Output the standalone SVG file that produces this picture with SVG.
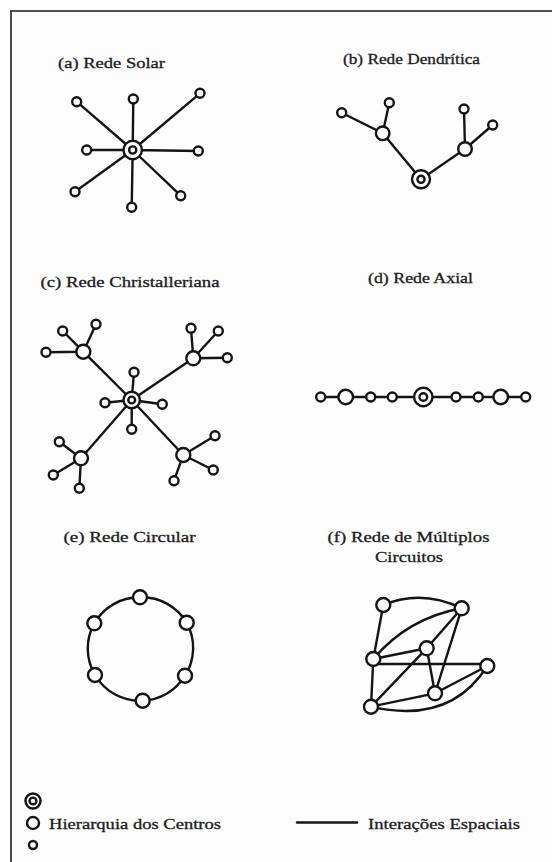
<svg xmlns="http://www.w3.org/2000/svg" width="552" height="862" viewBox="0 0 552 862">
<style>
.e{stroke:#141414;stroke-width:2.4;fill:none;stroke-linecap:round}
.n{fill:#fff;stroke:#141414;stroke-width:2.4}
.t{font-family:"Liberation Serif","Times New Roman",serif;font-size:14.5px;fill:#1c1c1c;stroke:#1c1c1c;stroke-width:0.3}
</style>
<rect x="0" y="0" width="552" height="862" fill="#fff"/>
<rect x="11" y="11" width="600" height="900" fill="#fdfdfd" stroke="#3a3a3a" stroke-width="1.8"/>

<g id="titles">
<text class="t" x="58" y="68" textLength="107" lengthAdjust="spacingAndGlyphs">(a) Rede Solar</text>
<text class="t" x="343" y="64" textLength="137" lengthAdjust="spacingAndGlyphs">(b) Rede Dendrítica</text>
<text class="t" x="40.5" y="287" textLength="179" lengthAdjust="spacingAndGlyphs">(c) Rede Christalleriana</text>
<text class="t" x="368" y="283" textLength="105" lengthAdjust="spacingAndGlyphs">(d) Rede Axial</text>
<text class="t" x="63.5" y="542" textLength="132" lengthAdjust="spacingAndGlyphs">(e) Rede Circular</text>
<text class="t" x="327.5" y="542" textLength="162" lengthAdjust="spacingAndGlyphs">(f) Rede de Múltiplos</text>
<text class="t" x="375" y="562" textLength="68" lengthAdjust="spacingAndGlyphs">Circuitos</text>
</g>

<g id="connectors">
<path class="e" d="M132.7 150L76.7 101.7M132.7 150L133.3 99M132.7 150L200 93.3M132.7 150L86.7 150M132.7 150L198.3 151M132.7 150L75 191.7M132.7 150L131.7 207.3M132.7 150L180.7 195.7"/>
<path class="e" d="M421 179.3L382.7 133.3L341.7 112.7M382.7 133.3L389.3 102.7M421 179.3L465 149L464 109M465 149L492.7 125"/>
<path class="e" d="M131.7 400L83.3 351.7M131.7 400L193.3 358.3M131.7 400L81 458.3M131.7 400L183.3 455M131.7 400L134 372.3M131.7 400L105 402.7M131.7 400L162.3 404.3M131.7 400L131.7 429.3"/>
<path class="e" d="M83.3 351.7L62.7 331M83.3 351.7L96 324.3M83.3 351.7L46 352.3M193.3 358.3L191 328.3M193.3 358.3L218.3 331M193.3 358.3L227.3 357.7M81 458.3L59.3 441.7M81 458.3L53.3 475M81 458.3L79.3 488.3M183.3 455L215 435.7M183.3 455L213.3 470M183.3 455L174 480.7"/>
<path class="e" d="M320.7 397L525.7 397"/>
<path class="e" d="M140 597.3A52 52 0 0 1 186.7 622.7A52 52 0 0 1 185 675.7A52 52 0 0 1 142.7 700.7A52 52 0 0 1 95 675A52 52 0 0 1 94.3 623.3A52 52 0 0 1 140 597.3"/>
<path class="e" d="M383.3 605Q422 589 461.7 608.3M373.3 659Q408 618 461.7 608.3M371 706.7Q450 725 487.3 666"/>
<path class="e" d="M383.3 605L373.3 659M461.7 608.3L426.7 648.3M461.7 608.3L435 693.3M373.3 659L426.7 648.3M375 664L487.3 664M373.3 659L371 706.7M426.7 648.3L435 693.3M426.7 648.3L371 706.7M371 706.7L435 693.3M435 693.3L487.3 666"/>
<path class="e" d="M297 822.5L357 822.5" stroke-width="2.7"/>
</g>

<g id="solar">
<g id="a0"><circle class="n" cx="132.7" cy="150" r="9.2"/><circle class="n" cx="132.7" cy="150" r="3.6"/></g>
<g id="a1"><circle class="n" cx="76.7" cy="101.7" r="4.5"/></g>
<g id="a2"><circle class="n" cx="133.3" cy="99" r="4.5"/></g>
<g id="a3"><circle class="n" cx="200" cy="93.3" r="4.5"/></g>
<g id="a4"><circle class="n" cx="86.7" cy="150" r="4.5"/></g>
<g id="a5"><circle class="n" cx="198.3" cy="151" r="4.5"/></g>
<g id="a6"><circle class="n" cx="75" cy="191.7" r="4.5"/></g>
<g id="a7"><circle class="n" cx="131.7" cy="207.3" r="4.5"/></g>
<g id="a8"><circle class="n" cx="180.7" cy="195.7" r="4.5"/></g>
</g>

<g id="dendritic">
<g id="b0"><circle class="n" cx="421" cy="179.3" r="9"/><circle class="n" cx="421" cy="179.3" r="3.6"/></g>
<g id="b1"><circle class="n" cx="382.7" cy="133.3" r="6.8"/></g>
<g id="b2"><circle class="n" cx="341.7" cy="112.7" r="4.5"/></g>
<g id="b3"><circle class="n" cx="389.3" cy="102.7" r="4.5"/></g>
<g id="b4"><circle class="n" cx="465" cy="149" r="6.8"/></g>
<g id="b5"><circle class="n" cx="464" cy="109" r="4.5"/></g>
<g id="b6"><circle class="n" cx="492.7" cy="125" r="4.5"/></g>
</g>

<g id="christaller">
<g id="c0"><circle class="n" cx="131.7" cy="400" r="8.2"/><circle class="n" cx="131.7" cy="400" r="3.4"/></g>
<g id="c1"><circle class="n" cx="134" cy="372.3" r="4.5"/></g>
<g id="c2"><circle class="n" cx="105" cy="402.7" r="4.5"/></g>
<g id="c3"><circle class="n" cx="162.3" cy="404.3" r="4.5"/></g>
<g id="c4"><circle class="n" cx="131.7" cy="429.3" r="4.5"/></g>
<g id="h1"><circle class="n" cx="83.3" cy="351.7" r="7"/></g>
<g id="h1a"><circle class="n" cx="62.7" cy="331" r="4.5"/></g>
<g id="h1b"><circle class="n" cx="96" cy="324.3" r="4.5"/></g>
<g id="h1c"><circle class="n" cx="46" cy="352.3" r="4.5"/></g>
<g id="h2"><circle class="n" cx="193.3" cy="358.3" r="7"/></g>
<g id="h2a"><circle class="n" cx="191" cy="328.3" r="4.5"/></g>
<g id="h2b"><circle class="n" cx="218.3" cy="331" r="4.5"/></g>
<g id="h2c"><circle class="n" cx="227.3" cy="357.7" r="4.5"/></g>
<g id="h3"><circle class="n" cx="81" cy="458.3" r="7"/></g>
<g id="h3a"><circle class="n" cx="59.3" cy="441.7" r="4.5"/></g>
<g id="h3b"><circle class="n" cx="53.3" cy="475" r="4.5"/></g>
<g id="h3c"><circle class="n" cx="79.3" cy="488.3" r="4.5"/></g>
<g id="h4"><circle class="n" cx="183.3" cy="455" r="7"/></g>
<g id="h4a"><circle class="n" cx="215" cy="435.7" r="4.5"/></g>
<g id="h4b"><circle class="n" cx="213.3" cy="470" r="4.5"/></g>
<g id="h4c"><circle class="n" cx="174" cy="480.7" r="4.5"/></g>
</g>

<g id="axial">
<g id="d1"><circle class="n" cx="320.7" cy="397" r="4.5"/></g>
<g id="d2"><circle class="n" cx="345.7" cy="397" r="7.3"/></g>
<g id="d3"><circle class="n" cx="370.7" cy="397" r="4.5"/></g>
<g id="d4"><circle class="n" cx="392.3" cy="397" r="4.5"/></g>
<g id="d5"><circle class="n" cx="423.3" cy="397" r="9.2"/><circle class="n" cx="423.3" cy="397" r="3.8"/></g>
<g id="d6"><circle class="n" cx="456" cy="397" r="4.5"/></g>
<g id="d7"><circle class="n" cx="478.3" cy="397" r="4.5"/></g>
<g id="d8"><circle class="n" cx="500.7" cy="397" r="7.3"/></g>
<g id="d9"><circle class="n" cx="525.7" cy="397" r="4.5"/></g>
</g>

<g id="circular">
<g id="e1"><circle class="n" cx="140" cy="597.3" r="7"/></g>
<g id="e2"><circle class="n" cx="186.7" cy="622.7" r="7"/></g>
<g id="e3"><circle class="n" cx="185" cy="675.7" r="7"/></g>
<g id="e4"><circle class="n" cx="142.7" cy="700.7" r="7"/></g>
<g id="e5"><circle class="n" cx="95" cy="675" r="7"/></g>
<g id="e6"><circle class="n" cx="94.3" cy="623.3" r="7"/></g>
</g>

<g id="multiple">
<g id="fA"><circle class="n" cx="383.3" cy="605" r="7"/></g>
<g id="fB"><circle class="n" cx="461.7" cy="608.3" r="7"/></g>
<g id="fC"><circle class="n" cx="373.3" cy="659" r="7"/></g>
<g id="fD"><circle class="n" cx="426.7" cy="648.3" r="7"/></g>
<g id="fE"><circle class="n" cx="487.3" cy="666" r="7"/></g>
<g id="fF"><circle class="n" cx="435" cy="693.3" r="7"/></g>
<g id="fG"><circle class="n" cx="371" cy="706.7" r="7"/></g>
</g>

<g id="legend">
<g id="lg1"><circle class="n" cx="33" cy="801" r="7.5" stroke-width="2.6"/><circle class="n" cx="33" cy="801" r="3.4" stroke-width="2.4"/></g>
<g id="lg2"><circle class="n" cx="33" cy="823" r="6" stroke-width="2.6"/></g>
<g id="lg3"><circle class="n" cx="33" cy="845" r="4" stroke-width="2.4"/></g>
<text class="t" x="49" y="828.5" font-size="15" textLength="172" lengthAdjust="spacingAndGlyphs">Hierarquia dos Centros</text>
<text class="t" x="368" y="828.5" font-size="15" textLength="152" lengthAdjust="spacingAndGlyphs">Interações Espaciais</text>
</g>
</svg>
